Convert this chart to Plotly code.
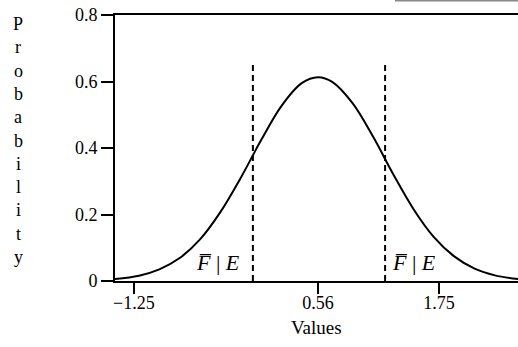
import plotly.graph_objects as go

# values
x_vals = [-1.44, -1.2, -1.0, -0.8, -0.6, -0.4, -0.2, 0.0, 0.2, 0.4, 0.56,
          0.7, 0.9, 1.1, 1.3, 1.5, 1.7, 1.9, 2.1, 2.3, 2.53]
prob = [0.006, 0.016, 0.035, 0.069, 0.125, 0.207, 0.310, 0.423, 0.526, 0.595, 0.613,
        0.599, 0.535, 0.435, 0.321, 0.216, 0.132, 0.074, 0.037, 0.017, 0.006]
cutoffs = [-0.08, 1.22]
cutoff_top = 0.65
x_ticks = [-1.25, 0.56, 1.75]
x_tick_labels = ["\u22121.25", "0.56", "1.75"]
y_ticks = [0, 0.2, 0.4, 0.6, 0.8]
y_tick_labels = ["0", "0.2", "0.4", "0.6", "0.8"]
y_title = "Probability"
region_label = "<i>F\u0305</i> | <i>E</i>"
label_pos = [-0.42, 1.50]

FONT = "Liberation Serif, Times New Roman, serif"

fig = go.Figure()
fig.add_trace(go.Scatter(x=x_vals, y=prob, mode="lines", line=dict(color="black", width=2, shape="spline"),
                         hoverinfo="skip"))
for c in cutoffs:
    fig.add_trace(go.Scatter(x=[c, c], y=[0, cutoff_top], mode="lines",
                             line=dict(color="black", width=2, dash="6px,4px"), hoverinfo="skip"))

for lx in label_pos:
    fig.add_annotation(x=lx, y=0.055, xref="x", yref="y", text=region_label, showarrow=False,
                       font=dict(family=FONT, size=22, color="black"), xanchor="center", yanchor="middle")

# stacked vertical y title
n = len(y_title)
top_px, bot_px = 24, 257
for i, ch in enumerate(y_title):
    py = top_px + (bot_px - top_px) * i / (n - 1)
    yp = (281 - py) / 266
    fig.add_annotation(x=-115 / 403 + 18 / 403, y=yp, xref="paper", yref="paper", text=ch, showarrow=False,
                       font=dict(family=FONT, size=18, color="black"), xanchor="center", yanchor="middle")

fig.add_annotation(x=0.5, y=-(327 - 281) / 266, xref="paper", yref="paper", text="Values", showarrow=False,
                   font=dict(family=FONT, size=19, color="black"), xanchor="center", yanchor="middle")

# scan artifact line at very top right
fig.add_shape(type="line", xref="paper", yref="paper", x0=(395 - 115) / 403, x1=1.0,
              y0=(281 - 0.5) / 266, y1=(281 - 0.5) / 266, line=dict(color="#888888", width=2))

fig.update_layout(
    width=518, height=347,
    margin=dict(l=115, r=0, t=15, b=66),
    paper_bgcolor="white", plot_bgcolor="white",
    showlegend=False,
    font=dict(family=FONT, size=19, color="black"),
)
fig.update_xaxes(range=[-1.436, 2.527], tickmode="array", tickvals=x_ticks, ticktext=x_tick_labels,
                 ticks="outside", ticklen=11, tickwidth=2, tickcolor="black",
                 showline=True, linecolor="black", linewidth=2, mirror=True, ticklabelstandoff=-7,
                 showgrid=False, zeroline=False, tickfont=dict(family=FONT, size=18))
fig.update_yaxes(range=[0, 0.8], tickmode="array", tickvals=y_ticks, ticktext=y_tick_labels,
                 ticks="outside", ticklen=12, tickwidth=2, tickcolor="black",
                 showline=True, linecolor="black", linewidth=2, mirror=False,
                 showgrid=False, zeroline=False, tickfont=dict(family=FONT, size=18))

fig.write_html("out.html")
